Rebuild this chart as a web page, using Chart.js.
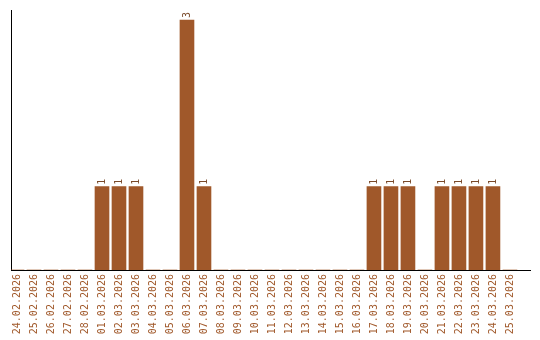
<!DOCTYPE html>
<html>
<head>
<meta charset="utf-8">
<script src="https://cdn.jsdelivr.net/npm/chart.js@4/dist/chart.umd.min.js"></script>
<style>
  html, body { margin: 0; padding: 0; background: #fff; }
  #wrap { width: 540px; height: 340px; }
</style>
</head>
<body>
<div id="wrap"><canvas id="chart" width="540" height="340"></canvas></div>
<script>
// dates on the x axis
const days = [
  '24.02.2026', '25.02.2026', '26.02.2026', '27.02.2026', '28.02.2026',
  '01.03.2026', '02.03.2026', '03.03.2026', '04.03.2026', '05.03.2026',
  '06.03.2026', '07.03.2026', '08.03.2026', '09.03.2026', '10.03.2026',
  '11.03.2026', '12.03.2026', '13.03.2026', '14.03.2026', '15.03.2026',
  '16.03.2026', '17.03.2026', '18.03.2026', '19.03.2026', '20.03.2026',
  '21.03.2026', '22.03.2026', '23.03.2026', '24.03.2026', '25.03.2026'
];
// count per day
const counts = [
  0, 0, 0, 0, 0,
  1, 1, 1, 0, 0,
  3, 1, 0, 0, 0,
  0, 0, 0, 0, 0,
  0, 1, 1, 1, 0,
  1, 1, 1, 1, 0
];

const BROWN = '#A0582A';
const FONT = "'DejaVu Sans Mono', 'Liberation Mono', monospace";

// value labels on top of the bars, rotated like the axis labels
const valueLabels = {
  id: 'valueLabels',
  afterDatasetsDraw(chart) {
    const ctx = chart.ctx;
    const meta = chart.getDatasetMeta(0);
    ctx.save();
    ctx.font = '10px ' + FONT;
    ctx.fillStyle = '#7a4a2a';
    ctx.textAlign = 'left';
    ctx.textBaseline = 'middle';
    meta.data.forEach((bar, i) => {
      if (!counts[i]) return;
      ctx.save();
      ctx.translate(bar.x, bar.y - 2);
      ctx.rotate(-Math.PI / 2);
      ctx.fillText(String(counts[i]), 0, 0);
      ctx.restore();
    });
    ctx.restore();
  }
};

const points = counts.map((v, i) => ({ x: i, y: v }));

new Chart(document.getElementById('chart').getContext('2d'), {
  type: 'bar',
  data: {
    datasets: [{
      data: points,
      backgroundColor: BROWN,
      borderWidth: 0,
      barThickness: 14
    }]
  },
  options: {
    responsive: false,
    animation: false,
    layout: { padding: { top: 10, right: 10, left: 0, bottom: 0 } },
    plugins: { legend: { display: false }, tooltip: { enabled: false } },
    scales: {
      x: {
        type: 'linear',
        offset: false,
        min: -0.353,
        max: 30.18,
        afterBuildTicks: s => { s.ticks = days.map((_, i) => ({ value: i })); },
        afterFit: s => { s.height = 70; },
        grid: { display: false, drawTicks: false, offset: false },
        border: { display: true, color: '#000', width: 1 },
        ticks: {
          autoSkip: false,
          minRotation: 90,
          maxRotation: 90,
          padding: 4,
          color: BROWN,
          font: { family: FONT, size: 10 },
          callback: v => days[v] || ''
        }
      },
      y: {
        min: 0,
        max: 3.12,
        afterFit: s => { s.width = 11; },
        grid: { display: false, drawTicks: false },
        border: { display: true, color: '#000', width: 1 },
        ticks: { display: false }
      }
    }
  },
  plugins: [valueLabels]
});
</script>
</body>
</html>
